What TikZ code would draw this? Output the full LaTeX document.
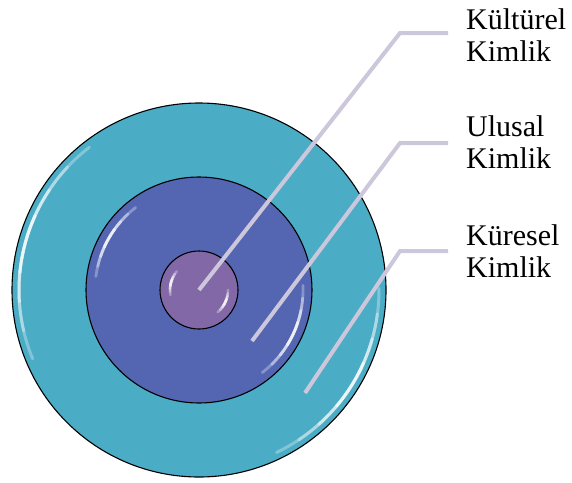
\documentclass[tikz,border=0pt]{standalone}
\usepackage{fontspec}
\setmainfont{Liberation Serif}
\definecolor{ringout}{RGB}{75,172,198}
\definecolor{ringmid}{RGB}{84,102,178}
\definecolor{ringin}{RGB}{130,104,166}
\definecolor{leadc}{RGB}{204,199,219}
\newcommand\glint[5]{%
  \foreach \s/\o in {1/0.3,0.75/0.35,0.5/0.45,0.25/0.6}{%
    \draw[white, line width=#5, opacity=\o, line cap=round]
      (#1) ++({#3-\s*#4/2}:#2) arc[start angle={#3-\s*#4/2}, end angle={#3+\s*#4/2}, radius=#2];
  }%
}
\begin{document}
\begin{tikzpicture}[x=1pt,y=-1pt]
\tikzset{
  ring/.style={circle, draw=black, line width=1.1pt, inner sep=0pt},
  lead/.style={draw=leadc, line width=4pt},
  lbl/.style={anchor=base west, inner sep=0pt, align=left, font=\fontsize{30}{32}\selectfont}
}
\useasboundingbox (0,0) rectangle (572,482);
\coordinate (c) at (199,290);
% outer
\node[ring, fill=ringout, minimum size=374pt] (outer) at (c) {};
\glint{c}{180}{195}{75}{3pt}
\glint{c}{180}{32}{65}{3pt}
% middle
\node[ring, fill=ringmid, minimum size=226pt] (middle) at (c) {};
\glint{c}{104}{210}{45}{2.8pt}
\glint{c}{104}{25}{55}{2.8pt}
% inner
\node[ring, fill=ringin, minimum size=78pt] (inner) at (c) {};
\glint{c}{29}{195}{50}{2.6pt}
\glint{c}{29}{25}{50}{2.6pt}
% labels
\node[lbl] (l1) at (466,61) {Kültürel\\Kimlik};
\node[lbl] (l2) at (466,168) {Ulusal\\Kimlik};
\node[lbl] (l3) at (466,277) {Küresel\\Kimlik};
% leaders
\coordinate (p1) at (199,290);
\coordinate (b1) at (400,33);
\coordinate (e1) at (448,33);
\coordinate (p2) at (252,341);
\coordinate (b2) at (400,143);
\coordinate (e2) at (448,143);
\coordinate (p3) at (305,393);
\coordinate (b3) at (400,251);
\coordinate (e3) at (448,251);
\draw[lead] (p1) -- (b1) -- (e1);
\draw[lead] (p2) -- (b2) -- (e2);
\draw[lead] (p3) -- (b3) -- (e3);
\end{tikzpicture}
\end{document}
